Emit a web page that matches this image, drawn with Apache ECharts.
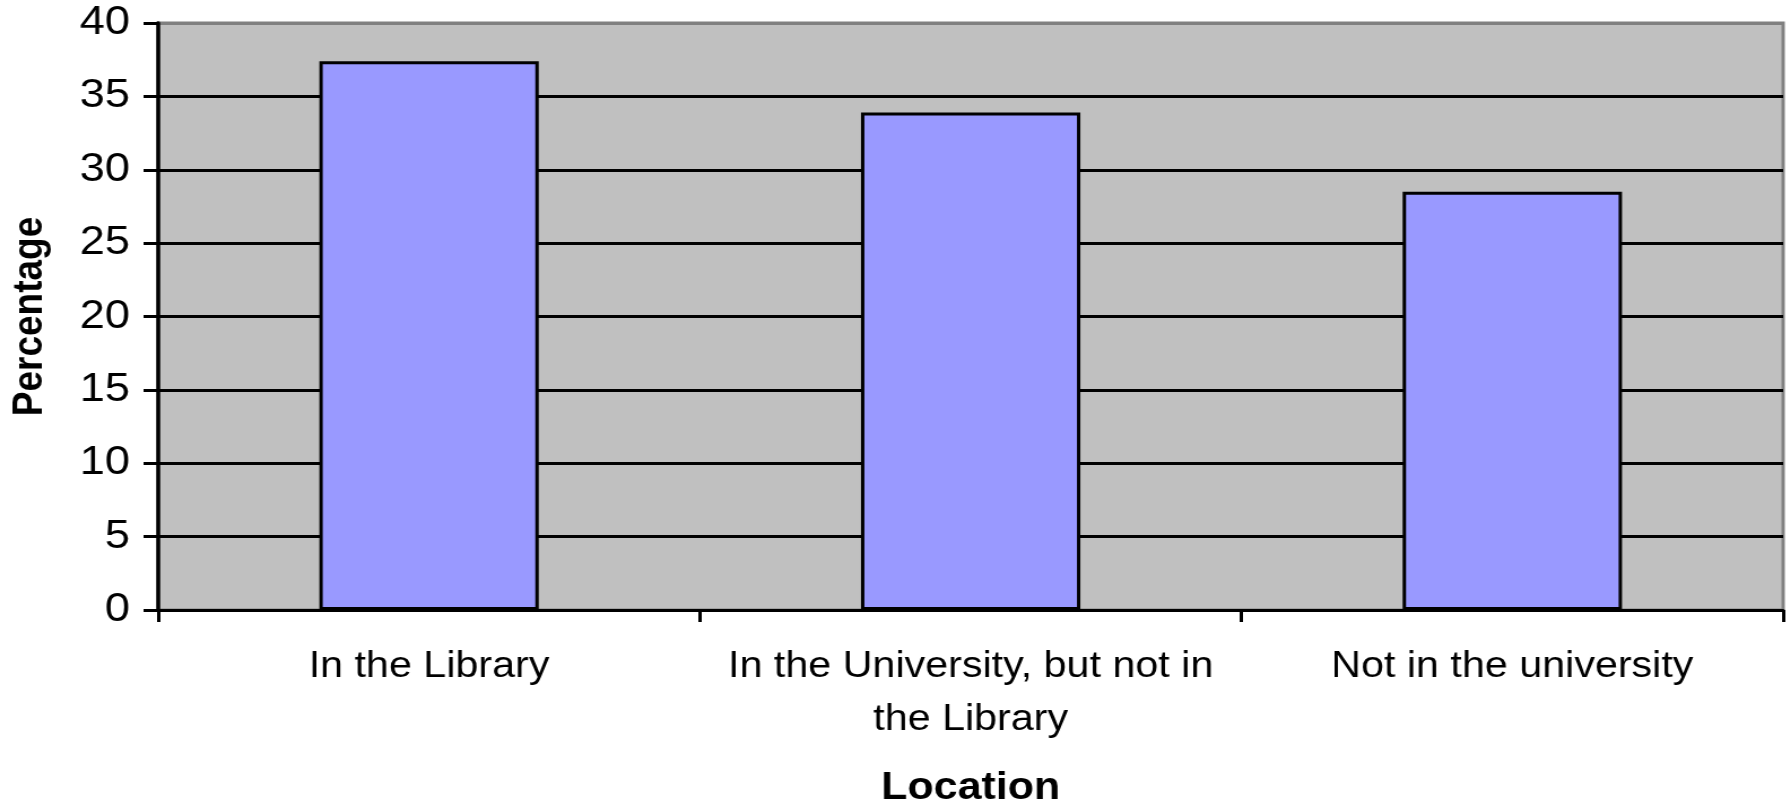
<!DOCTYPE html>
<html>
<head>
<meta charset="utf-8">
<title>Percentage by Location</title>
<script src="https://cdn.jsdelivr.net/npm/echarts@6/dist/echarts.min.js"></script>
<style>
  html, body { margin: 0; padding: 0; background: #ffffff; overflow: hidden; }
  #wrap { width: 1789px; height: 802px; overflow: hidden; }
  /* the chart is laid out narrower and widened horizontally */
  #chart { width: 1583px; height: 802px; transform: scaleX(1.13); transform-origin: 0 0; }
</style>
</head>
<body>
<div id="wrap"><div id="chart"></div></div>
<script>
const categories = ['In the Library', 'In the University, but not in\nthe Library', 'Not in the university'];
const percentages = [37.4, 33.9, 28.5];
const yTicks = [0, 5, 10, 15, 20, 25, 30, 35, 40];

const FONT = '"Liberation Sans", Arial, Helvetica, sans-serif';

const chart = echarts.init(document.getElementById('chart'), null, { renderer: 'canvas' });

// grid lines: black, the top one grey like the plot border
const splitColors = yTicks.map((v, i) => (i === yTicks.length - 1 ? '#808080' : '#000000'));

chart.setOption({
  animation: false,
  grid: {
    left: 140, right: 5, top: 23, bottom: 192,
    outerBoundsMode: 'none',
    containLabel: false,
    show: true,
    backgroundColor: '#C0C0C0',
    borderColor: '#808080',
    borderWidth: 3
  },
  xAxis: {
    type: 'category',
    data: categories,
    name: 'Location',
    nameLocation: 'middle',
    nameGap: 160,
    nameTextStyle: { fontFamily: FONT, fontSize: 38, fontWeight: 'bold', color: '#000' },
    axisLine: { show: true, lineStyle: { color: '#000', width: 3 } },
    axisTick: { show: true, alignWithLabel: false, length: 12, lineStyle: { color: '#000', width: 3 } },
    axisLabel: {
      interval: 0,
      margin: 30,
      fontFamily: FONT,
      fontSize: 36.5,
      lineHeight: 53,
      color: '#000',
      align: 'center'
    },
    splitLine: { show: false }
  },
  yAxis: {
    type: 'value',
    min: yTicks[0],
    max: yTicks[yTicks.length - 1],
    interval: 5,
    name: 'Percentage',
    nameLocation: 'middle',
    nameGap: 95,
    nameRotate: 90,
    nameTextStyle: { fontFamily: FONT, fontSize: 37, fontWeight: 'bold', color: '#000' },
    axisLine: { show: true, lineStyle: { color: '#000', width: 3.5 } },
    axisTick: { show: true, length: 13, lineStyle: { color: '#000', width: 3 } },
    axisLabel: { margin: 25, fontFamily: FONT, fontSize: 40, color: '#000' },
    splitLine: { show: true, lineStyle: { color: splitColors, width: 3 } }
  },
  series: [{
    type: 'bar',
    data: percentages,
    barWidth: '40.5%',
    itemStyle: { color: '#9999FF', borderColor: '#000000', borderWidth: 3 },
    z: 3
  }]
});
</script>
</body>
</html>
